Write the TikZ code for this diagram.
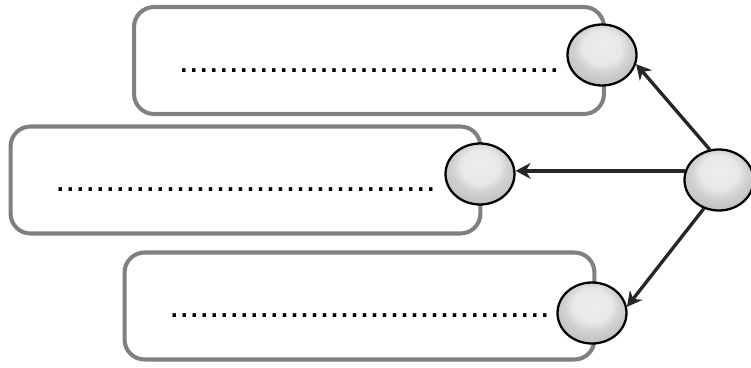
\documentclass[tikz,border=0pt]{standalone}
\usepackage{fontspec}
\setmainfont{Liberation Sans}
\usetikzlibrary{shapes.geometric,arrows.meta}
\pgfdeclareradialshading{pearl}{\pgfpoint{0bp}{8bp}}{%
  color(0bp)=(black!7); color(14bp)=(black!9); color(20bp)=(black!18);
  color(30bp)=(black!25); color(40bp)=(black!42); color(50bp)=(black!62);
  color(62bp)=(black!70)}
\begin{document}
\begin{tikzpicture}[x=0.02cm, y=-0.02cm,
        box/.style={draw=black!50, line width=2.3pt, rounded corners=0.4cm,
          minimum width=9.4cm, minimum height=2.14cm, text height=0.48cm, text depth=0pt,
          font=\fontsize{20.5}{24}\selectfont},
        ball/.style={ellipse, draw=black, line width=1.3pt, shading=pearl,
          minimum width=1.38cm, minimum height=1.22cm, inner sep=0pt},
        link/.style={draw=black!85, line width=1.9pt, -{Stealth[length=8.5pt, width=9pt]}}]
    \useasboundingbox (0,0) rectangle (751,368);

    \foreach \n/\x/\y in {top/369/60.5, mid/245.5/180, bot/359.5/306}{
      \node[box] (\n) at (\x,\y) {......................................};
    }

    % balls sit on the box edges
    \node[ball] (s1) at (602,55) {};
    \node[ball] (s2) at (480,174) {};
    \node[ball] (s3) at (592,313) {};
    \node[ball] (r) at (719,180) {};

    \draw[link] (r.107) -- (s1.-15);
    \draw[link] (r.165) -- (r.165 -| s2.east);
    \draw[link] (r.-118) -- (s3.10);
\end{tikzpicture}
\end{document}
